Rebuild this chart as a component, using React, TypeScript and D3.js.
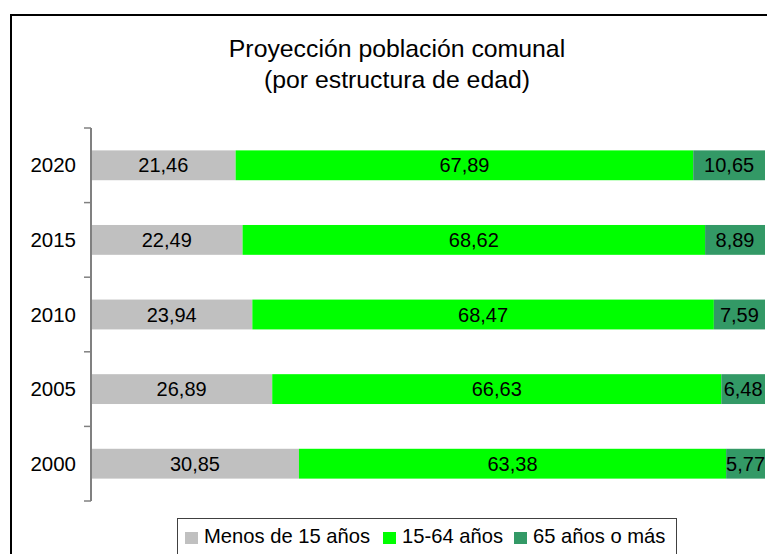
import React, { useEffect, useRef } from 'react';
import * as d3 from 'd3';

const years = ['2020', '2015', '2010', '2005', '2000'];
const menos15 = [21.46, 22.49, 23.94, 26.89, 30.85];
const entre15y64 = [67.89, 68.62, 68.47, 66.63, 63.38];
const mas65 = [10.65, 8.89, 7.59, 6.48, 5.77];
const seriesNames = ['Menos de 15 años', '15-64 años', '65 años o más'];
const seriesColors = ['#c0c0c0', '#00ff00', '#339966'];
const titleLines = ['Proyección población comunal', '(por estructura de edad)'];

function App() {
  const ref = useRef<SVGSVGElement | null>(null);

  useEffect(() => {
    if (!ref.current) return;
    const width = 767;
    const height = 554;
    const svg = d3.select(ref.current);
    svg.selectAll('*').remove();
    const font = 'Arial, "Liberation Sans", sans-serif';

    svg.append('rect').attr('width', width).attr('height', height).attr('fill', '#fff');

    // outer chart frame (runs off the right and bottom of the picture)
    svg.append('rect')
      .attr('x', 11).attr('y', 15)
      .attr('width', 820).attr('height', 620)
      .attr('fill', 'none').attr('stroke', '#000').attr('stroke-width', 2);

    svg.selectAll('text.title')
      .data(titleLines)
      .enter()
      .append('text')
      .attr('class', 'title')
      .attr('x', 397)
      .attr('y', (_, i) => 57 + i * 31)
      .attr('text-anchor', 'middle')
      .attr('font-family', font)
      .attr('font-size', 24.8)
      .attr('fill', '#000')
      .text((d) => d);

    const x = d3.scaleLinear().domain([0, 100]).range([91, 765]);
    const y = d3.scaleBand().domain(years).range([128, 501]).padding(0);
    const barH = y.bandwidth() * 0.4;

    const table = years.map((yr, i) => ({ yr, vals: [menos15[i], entre15y64[i], mas65[i]] }));
    const stacked = d3.stack<any>()
      .keys([0, 1, 2] as any)
      .value((d: any, k: any) => d.vals[k])(table as any);

    stacked.forEach((layer, si) => {
      const g = svg.append('g');
      g.selectAll('rect')
        .data(layer)
        .enter()
        .append('rect')
        .attr('x', (d) => x(d[0]))
        .attr('y', (d: any) => (y(d.data.yr) as number) + (y.bandwidth() - barH) / 2)
        .attr('width', (d) => x(d[1]) - x(d[0]))
        .attr('height', barH)
        .attr('fill', seriesColors[si]);
      g.selectAll('text')
        .data(layer)
        .enter()
        .append('text')
        .attr('x', (d) => (x(d[0]) + x(d[1])) / 2)
        .attr('y', (d: any) => (y(d.data.yr) as number) + y.bandwidth() / 2)
        .attr('dy', '0.35em')
        .attr('text-anchor', 'middle')
        .attr('font-family', font)
        .attr('font-size', 20)
        .attr('fill', '#000')
        .text((d) => d3.format('.2f')(d[1] - d[0]).replace('.', ','));
    });

    // category axis with ticks between categories
    const axis = svg.append('g');
    const [y0, y1] = y.range();
    axis.append('line')
      .attr('x1', 91).attr('x2', 91).attr('y1', y0).attr('y2', y1)
      .attr('stroke', '#808080').attr('stroke-width', 2);
    const bounds = d3.range(years.length + 1).map((i) => y0 + i * y.step());
    axis.selectAll('line.tick')
      .data(bounds)
      .enter()
      .append('line')
      .attr('class', 'tick')
      .attr('x1', 84).attr('x2', 91)
      .attr('y1', (d) => d).attr('y2', (d) => d)
      .attr('stroke', '#808080').attr('stroke-width', 1.5);
    axis.selectAll('text')
      .data(years)
      .enter()
      .append('text')
      .attr('x', 76)
      .attr('y', (d) => (y(d) as number) + y.bandwidth() / 2)
      .attr('dy', '0.35em')
      .attr('text-anchor', 'end')
      .attr('font-family', font)
      .attr('font-size', 20.5)
      .attr('fill', '#000')
      .text((d) => d);

    // legend
    const legend = svg.append('g');
    legend.append('rect')
      .attr('x', 177.5).attr('y', 518.5)
      .attr('width', 499).attr('height', 60)
      .attr('fill', '#fff').attr('stroke', '#404040').attr('stroke-width', 1);
    const itemX = [185, 383, 514];
    seriesNames.forEach((name, i) => {
      legend.append('rect')
        .attr('x', itemX[i]).attr('y', 532)
        .attr('width', 13).attr('height', 12)
        .attr('fill', seriesColors[i]);
      legend.append('text')
        .attr('x', itemX[i] + 19).attr('y', 543)
        .attr('font-family', font)
        .attr('font-size', 20.2)
        .attr('fill', '#000')
        .text(name);
    });
  }, []);

  return (
    <div style={{ position: 'absolute', left: 0, top: 0 }}>
      <svg ref={ref} width={767} height={554} style={{ display: 'block', overflow: 'hidden' }} />
    </div>
  );
}

export default App;
